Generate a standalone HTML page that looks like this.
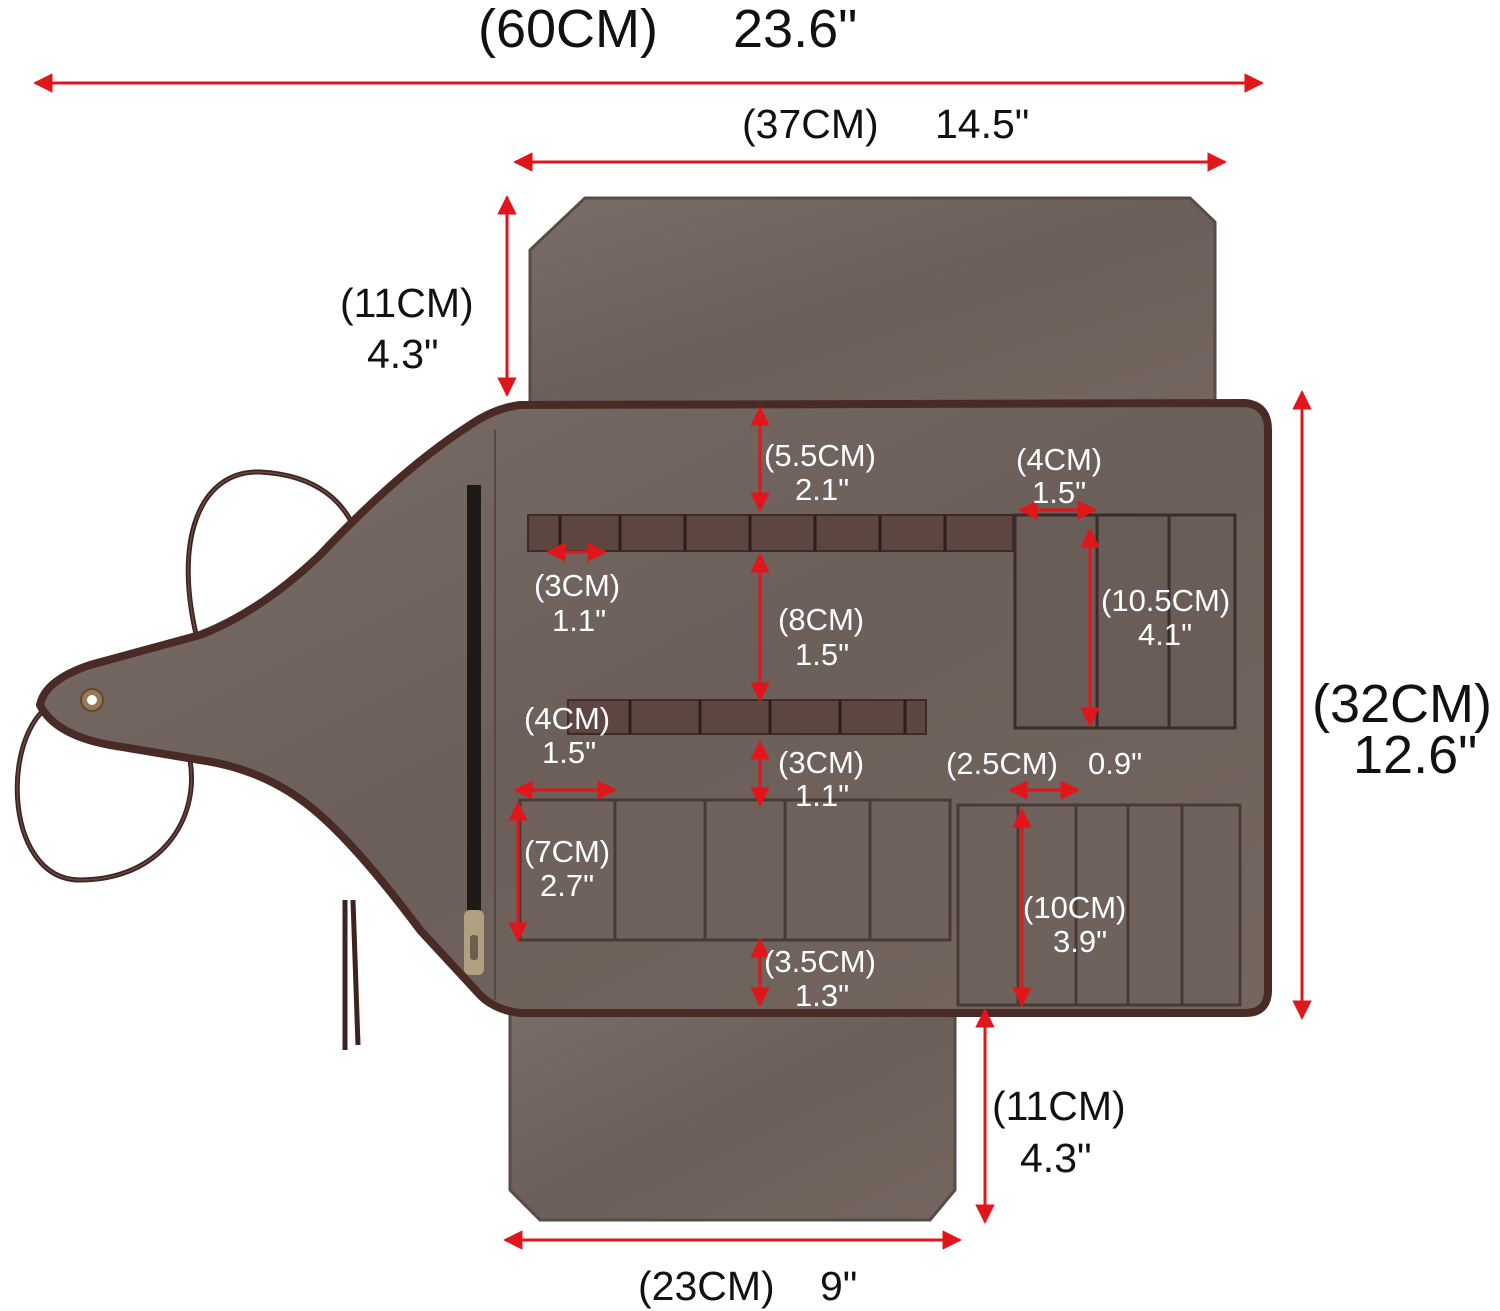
<!DOCTYPE html>
<html><head><meta charset="utf-8"><style>
html,body{margin:0;padding:0;background:#fff;}
svg{display:block;}
.bk{font-family:"Liberation Sans",sans-serif;fill:#111;}
.wt{font-family:"Liberation Sans",sans-serif;fill:#fff;font-size:31px;}
</style></head><body>
<svg width="1500" height="1311" viewBox="0 0 1500 1311" xmlns="http://www.w3.org/2000/svg">
<defs>
<marker id="a" viewBox="0 0 10 10" refX="9" refY="5" markerWidth="6.5" markerHeight="6.5" orient="auto-start-reverse"><path d="M0,0 L10,5 L0,10 z" fill="#e0161b"/></marker>
<linearGradient id="cv" x1="0" y1="0" x2="1" y2="1"><stop offset="0" stop-color="#7a6c66"/><stop offset="0.5" stop-color="#6c5f59"/><stop offset="1" stop-color="#74665f"/></linearGradient>
</defs>
<!-- strings -->
<g fill="none" stroke="#3e2420" stroke-width="5">
<path d="M200,650 C170,540 200,470 260,472 C320,475 345,505 355,530"/>
<path d="M60,700 C0,720 0,880 80,880 C160,880 200,820 190,760"/>
<path d="M345,900 L345,1050"/><path d="M353,900 L358,1045"/>
</g>
<g fill="none" stroke="#6a4a40" stroke-width="1.5">
<path d="M200,650 C170,540 200,470 260,472 C320,475 345,505 355,530"/>
<path d="M60,700 C0,720 0,880 80,880 C160,880 200,820 190,760"/>
</g>
<!-- top flap -->
<path d="M585,198 L1190,198 L1215,222 L1215,412 L530,412 L530,250 Z" fill="url(#cv)" stroke="#5a4a44" stroke-width="3"/>
<!-- bottom flap -->
<path d="M510,1005 L955,1005 L955,1190 L930,1220 L540,1220 L510,1190 Z" fill="url(#cv)" stroke="#5a4a44" stroke-width="3"/>
<!-- main body with paddle -->
<path d="M520,405 L1245,403 Q1268,405 1268,430 L1268,990 Q1268,1013 1245,1013 L520,1013 Q495,1010 480,995 L420,930 Q360,850 320,815 Q270,770 200,760 L110,745 Q55,735 40,705 Q45,680 90,665 L200,635 Q260,612 320,555 Q400,470 470,425 Q495,408 520,405 Z" fill="url(#cv)" stroke="#4a2a24" stroke-width="8"/>
<!-- grommet -->
<circle cx="92" cy="700" r="11" fill="#9a7a50" stroke="#5a4a30" stroke-width="2"/><circle cx="92" cy="700" r="5" fill="#fff"/>
<!-- zipper -->
<rect x="467" y="485" width="14" height="430" fill="#1e1a18"/>
<rect x="464" y="910" width="20" height="65" rx="6" fill="#b0a080"/>
<rect x="470" y="935" width="8" height="25" rx="3" fill="#6a5f50"/>
<line x1="495" y1="430" x2="495" y2="1000" stroke="#554842" stroke-width="2"/>
<!-- strap rows -->
<rect x="528" y="515" width="485" height="36" fill="#5e4640" stroke="#3e2a26" stroke-width="2"/>
<rect x="568" y="700" width="358" height="34" fill="#5e4640" stroke="#3e2a26" stroke-width="2"/>
<g stroke="#2e1e1a" stroke-width="3">
<line x1="560" y1="515" x2="560" y2="551"/><line x1="620" y1="515" x2="620" y2="551"/><line x1="685" y1="515" x2="685" y2="551"/><line x1="750" y1="515" x2="750" y2="551"/><line x1="815" y1="515" x2="815" y2="551"/><line x1="880" y1="515" x2="880" y2="551"/><line x1="945" y1="515" x2="945" y2="551"/>
<line x1="630" y1="700" x2="630" y2="734"/><line x1="700" y1="700" x2="700" y2="734"/><line x1="770" y1="700" x2="770" y2="734"/><line x1="840" y1="700" x2="840" y2="734"/><line x1="905" y1="700" x2="905" y2="734"/>
</g>
<!-- right pockets -->
<g fill="#6a5d57" stroke="#3a2c28" stroke-width="3">
<rect x="1015" y="515" width="82" height="213"/><rect x="1097" y="515" width="72" height="213"/><rect x="1169" y="515" width="66" height="213"/>
</g>
<!-- bottom pockets -->
<g fill="#6f615b" stroke="#4a3a34" stroke-width="3">
<rect x="520" y="800" width="95" height="140"/><rect x="615" y="800" width="90" height="140"/><rect x="705" y="800" width="80" height="140"/><rect x="785" y="800" width="85" height="140"/><rect x="870" y="800" width="80" height="140"/>
<rect x="958" y="805" width="60" height="200"/><rect x="1018" y="805" width="58" height="200"/><rect x="1076" y="805" width="52" height="200"/><rect x="1128" y="805" width="54" height="200"/><rect x="1182" y="805" width="58" height="200"/>
</g>
<!-- arrows -->
<g stroke="#e0161b" stroke-width="3" marker-start="url(#a)" marker-end="url(#a)">
<line x1="35" y1="83" x2="1262" y2="83"/>
<line x1="515" y1="162" x2="1225" y2="162"/>
<line x1="507" y1="197" x2="507" y2="395"/>
<line x1="1302" y1="392" x2="1302" y2="1018"/>
<line x1="760" y1="408" x2="760" y2="510"/>
<line x1="760" y1="555" x2="760" y2="700"/>
<line x1="548" y1="552" x2="605" y2="552"/>
<line x1="1020" y1="510" x2="1095" y2="510"/>
<line x1="1090" y1="530" x2="1090" y2="725"/>
<line x1="515" y1="790" x2="615" y2="790"/>
<line x1="760" y1="742" x2="760" y2="805"/>
<line x1="1010" y1="790" x2="1078" y2="790"/>
<line x1="518" y1="803" x2="518" y2="940"/>
<line x1="1022" y1="810" x2="1022" y2="1005"/>
<line x1="760" y1="940" x2="760" y2="1005"/>
<line x1="985" y1="1010" x2="985" y2="1222"/>
<line x1="505" y1="1240" x2="960" y2="1240"/>
</g>
<!-- black labels -->
<text class="bk" x="478" y="47" font-size="54">(60CM)</text><text class="bk" x="733" y="47" font-size="54">23.6"</text>
<text class="bk" x="742" y="138" font-size="41">(37CM)</text><text class="bk" x="935" y="138" font-size="41">14.5"</text>
<text class="bk" x="340" y="317" font-size="41">(11CM)</text><text class="bk" x="367" y="368" font-size="41">4.3"</text>
<text class="bk" x="1312" y="722" font-size="54">(32CM)</text><text class="bk" x="1353" y="773" font-size="54">12.6"</text>
<text class="bk" x="992" y="1120" font-size="41">(11CM)</text><text class="bk" x="1020" y="1172" font-size="41">4.3"</text>
<text class="bk" x="638" y="1300" font-size="41">(23CM)</text><text class="bk" x="820" y="1300" font-size="41">9"</text>
<!-- white labels -->
<text class="wt" x="764" y="466">(5.5CM)</text><text class="wt" x="795" y="500">2.1"</text>
<text class="wt" x="1016" y="470">(4CM)</text><text class="wt" x="1032" y="503">1.5"</text>
<text class="wt" x="534" y="596">(3CM)</text><text class="wt" x="552" y="631">1.1"</text>
<text class="wt" x="778" y="630">(8CM)</text><text class="wt" x="795" y="665">1.5"</text>
<text class="wt" x="1101" y="611">(10.5CM)</text><text class="wt" x="1138" y="645">4.1"</text>
<text class="wt" x="524" y="729">(4CM)</text><text class="wt" x="542" y="763">1.5"</text>
<text class="wt" x="778" y="773">(3CM)</text><text class="wt" x="795" y="806">1.1"</text>
<text class="wt" x="946" y="774">(2.5CM)</text><text class="wt" x="1088" y="774">0.9"</text>
<text class="wt" x="524" y="862">(7CM)</text><text class="wt" x="540" y="896">2.7"</text>
<text class="wt" x="1023" y="918">(10CM)</text><text class="wt" x="1053" y="952">3.9"</text>
<text class="wt" x="764" y="972">(3.5CM)</text><text class="wt" x="795" y="1006">1.3"</text>
</svg>
</body></html>
